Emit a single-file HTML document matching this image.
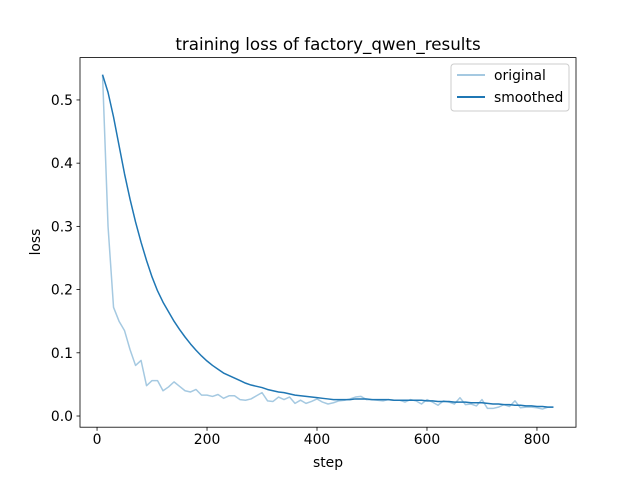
<!DOCTYPE html>
<html><head><meta charset="utf-8"><style>
body{margin:0;background:#fff}
svg{display:block;font-family:"DejaVu Sans","Liberation Sans",sans-serif}
</style></head><body>
<svg id="chart" width="640" height="480" xmlns="http://www.w3.org/2000/svg">
<rect width="640" height="480" fill="#fff"/>
<text x="328" y="50" font-size="16.7" text-anchor="middle">training loss of factory_qwen_results</text>
<g id="plot"></g>
<text x="328" y="467" font-size="13.9" text-anchor="middle">step</text>
<text transform="translate(40,242) rotate(-90)" font-size="13.9" text-anchor="middle">loss</text>
<g>
<rect x="451" y="64" width="118" height="47" rx="3" fill="#fff" fill-opacity="0.8" stroke="#ccc"/>
<line x1="457" y1="75" x2="485" y2="75" stroke="#1f77b4" stroke-opacity="0.4" stroke-width="2"/>
<text x="494" y="80" font-size="13.9">original</text>
<line x1="457" y1="97" x2="485" y2="97" stroke="#1f77b4" stroke-width="2"/>
<text x="494" y="102" font-size="13.9">smoothed</text>
</g>
</svg>
<script>
const original=[.54,.30,.172,.15,.135,.105,.08,.088,.048,.056,.056,.04,.046,.054,.047,.04,.038,.042,.033,.033,.031,.034,.028,.032,.032,.026,.025,.027,.032,.037,.024,.023,.03,.026,.03,.02,.025,.02,.023,.027,.022,.019,.021,.024,.025,.027,.03,.031,.026,.026,.025,.024,.026,.025,.025,.022,.026,.024,.019,.026,.022,.017,.024,.022,.019,.029,.018,.019,.016,.026,.012,.012,.014,.018,.015,.024,.013,.014,.014,.013,.011,.014,.014];
const smoothed=[.540,.512,.473,.428,.383,.343,.307,.275,.246,.220,.198,.180,.165,.150,.137,.125,.114,.104,.095,.087,.080,.074,.068,.064,.060,.056,.052,.049,.047,.045,.042,.040,.038,.037,.035,.033,.032,.031,.030,.029,.028,.027,.026,.026,.026,.026,.027,.027,.027,.026,.026,.026,.026,.025,.025,.025,.025,.025,.025,.024,.024,.023,.023,.023,.022,.022,.022,.021,.021,.021,.020,.019,.019,.018,.018,.017,.017,.016,.016,.015,.015,.014,.014];
const steps=original.map((_,i)=>10+10*i);
const xTicks=[0,200,400,600,800];
const yTicks=[0,0.1,0.2,0.3,0.4,0.5];
const yTickLabels=["0.0","0.1","0.2","0.3","0.4","0.5"];
const L=80,R=576,T=57.6,B=427.2,xmin=-31,xmax=871,ymin=-0.0177,ymax=0.567;
const sx=v=>L+(v-xmin)/(xmax-xmin)*(R-L);
const sy=v=>B-(v-ymin)/(ymax-ymin)*(B-T);
const NS="http://www.w3.org/2000/svg";
const g=document.getElementById('plot');
function mk(t,a){const e=document.createElementNS(NS,t);for(const k in a)e.setAttribute(k,a[k]);g.appendChild(e);return e;}
function line(vals,op,name){
 const p=mk('path',{d:vals.map((v,i)=>(i?'L':'M')+sx(steps[i]).toFixed(2)+','+sy(v).toFixed(2)).join(''),fill:'none',stroke:'#1f77b4','stroke-opacity':op,'stroke-width':1.5,'stroke-linejoin':'round'});
 
 
}
line(original,0.4,'original-line');
line(smoothed,1,'smoothed-line');
const fr=mk('rect',{x:L,y:T,width:R-L,height:B-T,fill:'none',stroke:'#000','stroke-width':0.8});


xTicks.forEach(v=>{
 const x=sx(v);
 const t=mk('line',{x1:x,x2:x,y1:B,y2:B+3.5,stroke:'#000','stroke-width':0.8});
 
 
 const l=mk('text',{x:x,y:B+17,'font-size':13.9,'text-anchor':'middle'});l.textContent=v;
 
 
});
yTicks.forEach((v,i)=>{
 const y=sy(v);
 const t=mk('line',{x1:L-3.5,x2:L,y1:y,y2:y,stroke:'#000','stroke-width':0.8});
 
 
 const l=mk('text',{x:L-7,y:y+5,'font-size':13.9,'text-anchor':'end'});l.textContent=yTickLabels[i];
 
 
});
</script>
</body></html>
